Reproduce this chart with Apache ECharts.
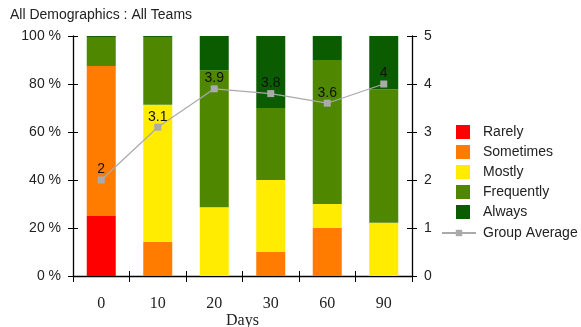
<!DOCTYPE html>
<html><head><meta charset="utf-8">
<script src="https://cdn.jsdelivr.net/npm/echarts@6/dist/echarts.min.js"></script>
<style>html,body{margin:0;padding:0;background:#fff}#c{width:581px;height:327px}</style>
</head><body><div id="c"></div>
<script>
var categories = ['0', '10', '20', '30', '60', '90'];
var rarely     = [25, 0, 0, 0, 0, 0];
var sometimes  = [62.5, 14.3, 0, 10, 20, 0];
var mostly     = [0, 57.1, 28.6, 30, 10, 22.2];
var frequently = [12.1, 28.2, 57.1, 30, 60, 55.6];
var always     = [0.4, 0.4, 14.3, 30, 10, 22.2];
var groupAverage = [2, 3.1, 3.9, 3.8, 3.6, 4];
var leftTicks = [0, 20, 40, 60, 80, 100];
var rightTicks = [0, 1, 2, 3, 4, 5];

var FONT = 'Liberation Sans, Arial, sans-serif';
var colors = {Rarely:'#ff0000', Sometimes:'#ff7c00', Mostly:'#ffec00', Frequently:'#4f8800', Always:'#0b5c00'};
function barSeries(name, data){
  return {name:name, type:'bar', stack:'s', yAxisIndex:0, barWidth:29, data:data,
    itemStyle:{color:colors[name]}, emphasis:{disabled:true}};
}
var axisLineStyle = {lineStyle:{color:'#000', width:1.3}};
var chart = echarts.init(document.getElementById('c'));
chart.setOption({
  animation:false,
  graphic:[{type:'text', left:10, top:8, style:{text:'All Demographics : All Teams', font:'14px '+FONT, fill:'#222'}}],
  grid:{left:73, right:169, top:36, bottom:51, containLabel:false, outerBoundsMode:'none'},
  xAxis:[
    {type:'category', data:categories, boundaryGap:true,
     axisLine:axisLineStyle, axisTick:{show:true, length:6, lineStyle:{color:'#000'}},
     axisLabel:{fontFamily:'Liberation Serif, serif', fontSize:16, color:'#222', margin:20},
     name:'Days', nameLocation:'middle', nameGap:37, nameMoveOverlap:false,
     nameTextStyle:{fontFamily:'Liberation Serif, serif', fontSize:16, color:'#222'}},
    {type:'category', data:categories, position:'bottom', boundaryGap:true,
     axisLine:{show:false}, axisTick:{show:true, inside:true, length:5, lineStyle:{color:'#000'}},
     axisLabel:{show:false}}
  ],
  yAxis:[
    {type:'value', min:leftTicks[0], max:leftTicks[leftTicks.length-1], interval:20, position:'left',
     axisLine:{show:true, lineStyle:{color:'#000', width:1.3}}, axisTick:{show:true, length:5, lineStyle:{color:'#000'}},
     splitLine:{show:false},
     axisLabel:{formatter:'{value} %', fontFamily:FONT, fontSize:14, color:'#222', margin:12}},
    {type:'value', min:rightTicks[0], max:rightTicks[rightTicks.length-1], interval:1, position:'right',
     axisLine:{show:true, lineStyle:{color:'#000', width:1.3}}, axisTick:{show:true, length:5, lineStyle:{color:'#000'}},
     splitLine:{show:false},
     axisLabel:{fontFamily:FONT, fontSize:14, color:'#222', margin:12}},
    {type:'value', min:0, max:100, interval:20, position:'left',
     axisLine:{show:false}, axisTick:{show:true, inside:true, length:5, lineStyle:{color:'#000'}},
     splitLine:{show:false}, axisLabel:{show:false}},
    {type:'value', min:0, max:5, interval:1, position:'right',
     axisLine:{show:false}, axisTick:{show:true, inside:true, length:5, lineStyle:{color:'#000'}},
     splitLine:{show:false}, axisLabel:{show:false}}
  ],
  legend:[
    {data:['Rarely','Sometimes','Mostly','Frequently','Always'], orient:'vertical', left:456, top:125, padding:0,
     icon:'rect', itemWidth:14, itemHeight:14, itemGap:6,
     textStyle:{fontFamily:FONT, fontSize:14, color:'#222', padding:[0,0,0,8]}, selectedMode:false},
    {data:['Group Average'], orient:'vertical', left:441, top:226, padding:0,
     itemWidth:34, itemHeight:8,
     textStyle:{fontFamily:FONT, fontSize:14, color:'#222', padding:[0,0,0,2]}, selectedMode:false}
  ],
  series:[
    barSeries('Rarely', rarely),
    barSeries('Sometimes', sometimes),
    barSeries('Mostly', mostly),
    barSeries('Frequently', frequently),
    barSeries('Always', always),
    {name:'Group Average', type:'line', yAxisIndex:1, data:groupAverage,
     symbol:'rect', symbolSize:7, lineStyle:{color:'#aaaaaa', width:1.2}, itemStyle:{color:'#aaaaaa'},
     label:{show:true, position:'top', distance:0, fontFamily:FONT, fontSize:14, color:'#111'},
     emphasis:{disabled:true}, z:5}
  ]
});
</script></body></html>
